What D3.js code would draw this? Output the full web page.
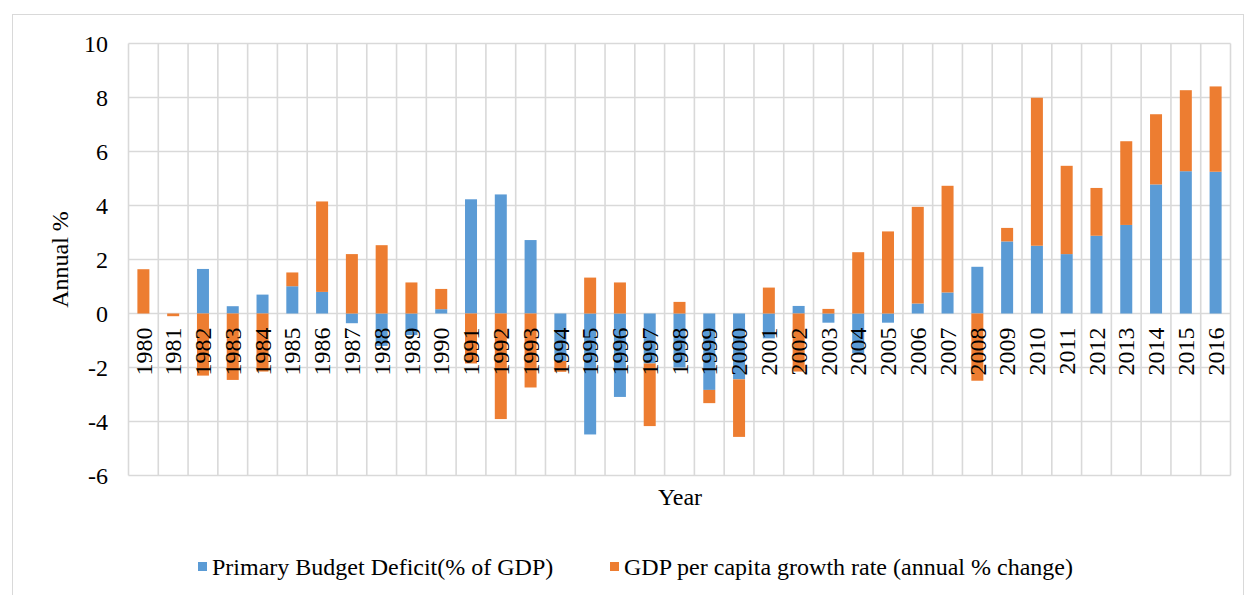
<!DOCTYPE html>
<html>
<head>
<meta charset="utf-8">
<script src="https://cdn.jsdelivr.net/npm/d3@7"></script>
<style>
  html, body { margin: 0; padding: 0; background: #fff; }
  svg { display: block; font-family: "Liberation Serif", "Times New Roman", serif; }
</style>
</head>
<body>
<svg id="chart" width="1249" height="595"></svg>
<script>
// Years on the category axis
const years = d3.range(1980, 2017).map(String);

// Primary budget deficit, % of GDP
const deficit = [
  0, 0, 1.65, 0.27, 0.70, 1.01, 0.80, -0.36, -1.2, -0.8,
  0.16, 4.23, 4.41, 2.72, -1.76, -4.48, -3.09, -1.85, -2.0, -2.83,
  -2.44, -0.92, 0.28, -0.34, -1.48, -0.34, 0.37, 0.78, 1.73, 2.67,
  2.51, 2.20, 2.88, 3.28, 4.78, 5.27, 5.25
];

// GDP per capita growth rate, annual % change
const gdpGrowth = [
  1.64, -0.1, -2.3, -2.46, -2.15, 0.51, 3.35, 2.2, 2.53, 1.15,
  0.75, -1.85, -3.91, -2.74, -0.4, 1.33, 1.15, -2.32, 0.43, -0.49,
  -2.13, 0.96, -2.15, 0.17, 2.27, 3.04, 3.58, 3.95, -2.49, 0.5,
  5.48, 3.27, 1.77, 3.1, 2.6, 3.0, 3.16
];

const yTicks = [-6, -4, -2, 0, 2, 4, 6, 8, 10];

const seriesNames = ["Primary Budget Deficit(% of GDP)", "GDP per capita growth rate (annual % change)"];
const seriesKeys = ["deficit", "gdp"];
const colors = ["#5B9BD5", "#ED7D31"];

const FONT = "Liberation Serif, Times New Roman, serif";
const FS = 24;

const rows = years.map((y, i) => ({ year: y, deficit: deficit[i], gdp: gdpGrowth[i] }));

const svg = d3.select("#chart");

// outer chart frame
svg.append("rect")
  .attr("x", 12.5).attr("y", 14.5)
  .attr("width", 1231).attr("height", 600)
  .attr("fill", "none").attr("stroke", "#d9d9d9").attr("stroke-width", 1);

const plot = { left: 128.5, right: 1230.5, top: 43.5, bottom: 475.5 };

const x = d3.scaleBand().domain(years).range([plot.left, plot.right]).paddingInner(0).paddingOuter(0);
const y = d3.scaleLinear().domain([-6, 10]).range([plot.bottom, plot.top]);

const grid = svg.append("g").attr("stroke", "#d9d9d9").attr("stroke-width", 1.6);

// horizontal gridlines
grid.selectAll("line.h").data(yTicks).join("line")
  .attr("x1", plot.left).attr("x2", plot.right)
  .attr("y1", d => y(d)).attr("y2", d => y(d));

// vertical gridlines at category boundaries
const bounds = years.map(d => x(d)).concat([plot.right]);
grid.selectAll("line.v").data(bounds).join("line")
  .attr("x1", d => d).attr("x2", d => d)
  .attr("y1", plot.top).attr("y2", plot.bottom);

// diverging stack: positives go up from zero, negatives go down
const stack = d3.stack().keys(seriesKeys).offset(d3.stackOffsetDiverging);
const stacked = stack(rows);

const barW = 12;
svg.append("g").selectAll("g").data(stacked).join("g")
  .attr("fill", (d, i) => colors[i])
  .selectAll("rect").data(d => d).join("rect")
  .attr("x", d => x(d.data.year) + x.bandwidth() / 2 - barW / 2)
  .attr("width", barW)
  .attr("y", d => y(Math.max(d[0], d[1])))
  .attr("height", d => Math.abs(y(d[0]) - y(d[1])));

// y axis labels (plain hyphen for negatives)
const yAxis = d3.axisLeft(y).tickValues(yTicks).tickSize(0).tickPadding(0).tickFormat(d => String(d));
const yg = svg.append("g").attr("transform", `translate(108,0)`).call(yAxis);
yg.select(".domain").remove();
yg.selectAll("text")
  .attr("font-family", FONT)
  .attr("font-size", FS).attr("fill", "#000").attr("dy", "0.34em");

// category labels, rotated, hanging below the zero line
const xAxis = d3.axisBottom(x).tickSize(0).tickPadding(0);
const xg = svg.append("g").attr("transform", `translate(0,${y(0)})`).call(xAxis);
xg.select(".domain").remove();
xg.selectAll("text")
  .attr("font-family", FONT)
  .attr("font-size", FS).attr("fill", "#000")
  .attr("text-anchor", "end")
  .attr("transform", "rotate(-90)")
  .attr("x", -14).attr("y", 0).attr("dy", "0.34em");

// axis titles
svg.append("text")
  .attr("transform", `translate(68,${(plot.top + plot.bottom) / 2}) rotate(-90)`)
  .attr("text-anchor", "middle").attr("font-family", FONT).attr("font-size", FS).attr("fill", "#000")
  .text("Annual %");

svg.append("text")
  .attr("x", 680).attr("y", 505)
  .attr("text-anchor", "middle").attr("font-family", FONT).attr("font-size", FS).attr("fill", "#000")
  .text("Year");

// legend
const legendItems = [
  { name: seriesNames[0], color: colors[0], x: 198 },
  { name: seriesNames[1], color: colors[1], x: 610 }
];
const lg = svg.append("g");
legendItems.forEach(it => {
  lg.append("rect").attr("x", it.x).attr("y", 562).attr("width", 9).attr("height", 9).attr("fill", it.color);
  lg.append("text").attr("x", it.x + 14).attr("y", 575)
    .attr("font-family", FONT).attr("font-size", FS).attr("fill", "#000").text(it.name);
});
</script>
</body>
</html>
